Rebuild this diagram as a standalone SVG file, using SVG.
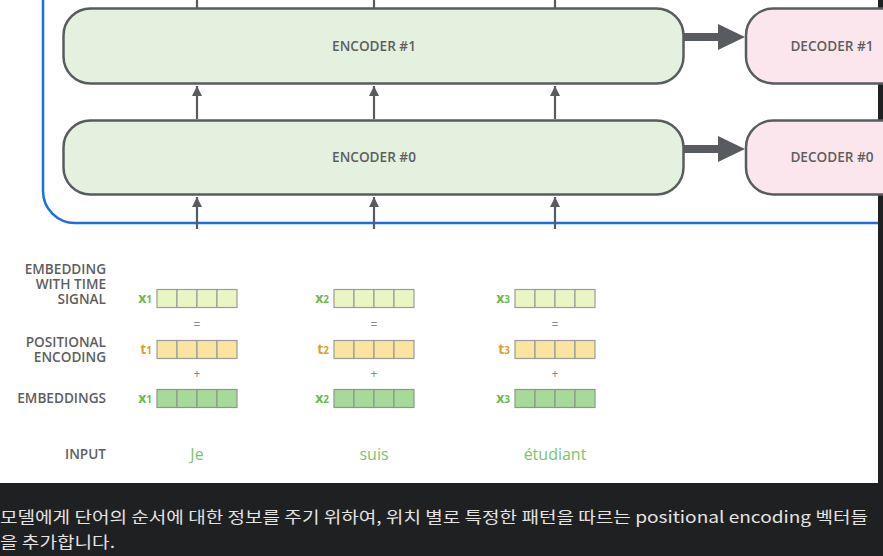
<svg xmlns="http://www.w3.org/2000/svg" width="883" height="556" viewBox="0 0 883 556">
<defs>
<style>
.enc{fill:#e4f1de;stroke:#585c61;stroke-width:2.5}
.dec{fill:#fbe6ee;stroke:#585c61;stroke-width:2.5}
.ntext{font-family:"Open Sans","Liberation Sans",sans-serif;font-size:13.6px;font-weight:600;fill:#5e5e5e;text-anchor:middle}
.lbl{font-family:"Open Sans","Liberation Sans",sans-serif;font-size:13.6px;font-weight:600;fill:#5e5e5e;text-anchor:end}
.conn{stroke:#585c61;stroke-width:2.2;fill:none}
.c1{fill:#eaf5c4;stroke:#9c9c9c;stroke-width:1.2}
.c2{fill:#fbe49f;stroke:#9c9c9c;stroke-width:1.2}
.c3{fill:#a7d99b;stroke:#8a9a88;stroke-width:1.2}
.vx{font-family:"Open Sans","Liberation Sans",sans-serif;font-size:14px;fill:#6cbb4c;font-weight:700;text-anchor:end}
.vt{font-family:"Open Sans","Liberation Sans",sans-serif;font-size:14px;fill:#d5a42e;font-weight:700;text-anchor:end}
.op{font-family:"Open Sans","Liberation Sans",sans-serif;font-size:12px;fill:#888;text-anchor:middle}
.word{font-family:"Open Sans","Liberation Sans",sans-serif;font-size:16px;fill:#7cc46a;text-anchor:middle}
.ko{font-family:"Noto Sans CJK KR","Noto Sans",sans-serif;font-size:16px;fill:#e3e3e3}
</style>
<marker id="ah" viewBox="0 0 10 10" refX="10" refY="5" markerWidth="10" markerHeight="10" markerUnits="userSpaceOnUse" orient="auto">
<path d="M0,0 L10,5 L0,10 Z" fill="#585c61"/>
</marker>
</defs>
<rect x="0" y="0" width="883" height="556" fill="#1f2022"/>
<rect x="0" y="0" width="878" height="483" fill="#ffffff"/>
<g id="container">
<path d="M43,-10 L43,191 A32,32 0 0 0 75,223 L878,223" fill="none" stroke="#1b6fe6" stroke-width="2.5"/>
</g>
<g id="connectors">
<path class="conn" d="M197,0 L197,8"/>
<path class="conn" d="M374,0 L374,8"/>
<path class="conn" d="M555,0 L555,8"/>
<path class="conn" d="M197,119 L197,86" marker-end="url(#ah)"/>
<path class="conn" d="M374,119 L374,86" marker-end="url(#ah)"/>
<path class="conn" d="M555,119 L555,86" marker-end="url(#ah)"/>
<path class="conn" d="M197,229 L197,197" marker-end="url(#ah)"/>
<path class="conn" d="M374,229 L374,197" marker-end="url(#ah)"/>
<path class="conn" d="M555,229 L555,197" marker-end="url(#ah)"/>
<path d="M684,33 L718,33 L718,24 L745,37 L718,50 L718,41 L684,41 Z" fill="#585c61"/>
<path d="M684,145 L718,145 L718,136 L745,149 L718,162 L718,153 L684,153 Z" fill="#585c61"/>
</g>
<g id="encoder1">
<rect class="enc" x="63.5" y="8.5" width="620" height="75" rx="27"/>
<text class="ntext" x="374" y="51">ENCODER #1</text>
</g>
<g id="encoder0">
<rect class="enc" x="63.5" y="120.5" width="620" height="74" rx="27"/>
<text class="ntext" x="374" y="162">ENCODER #0</text>
</g>
<g id="decoder1">
<rect class="dec" x="746" y="8.5" width="200" height="75" rx="27"/>
<text class="ntext" x="832" y="51">DECODER #1</text>
</g>
<g id="decoder0">
<rect class="dec" x="746" y="120.5" width="200" height="74" rx="27"/>
<text class="ntext" x="832" y="162">DECODER #0</text>
</g>
<g id="labels">
<text class="lbl" x="106" y="274">EMBEDDING</text>
<text class="lbl" x="106" y="289">WITH TIME</text>
<text class="lbl" x="106" y="304">SIGNAL</text>
<text class="lbl" x="106" y="347">POSITIONAL</text>
<text class="lbl" x="106" y="362">ENCODING</text>
<text class="lbl" x="106" y="403">EMBEDDINGS</text>
<text class="lbl" x="106" y="459">INPUT</text>
</g>
<g id="vec1">
<text class="vx" x="152" y="303">x<tspan font-size="10">1</tspan></text>
<rect class="c1" x="157" y="289.5" width="20" height="18"/><rect class="c1" x="177" y="289.5" width="20" height="18"/><rect class="c1" x="197" y="289.5" width="20" height="18"/><rect class="c1" x="217" y="289.5" width="20" height="18"/>
<text class="op" x="197" y="329">=</text>
<text class="vt" x="152" y="354">t<tspan font-size="10">1</tspan></text>
<rect class="c2" x="157" y="340.5" width="20" height="18"/><rect class="c2" x="177" y="340.5" width="20" height="18"/><rect class="c2" x="197" y="340.5" width="20" height="18"/><rect class="c2" x="217" y="340.5" width="20" height="18"/>
<text class="op" x="197" y="378">+</text>
<text class="vx" x="152" y="403">x<tspan font-size="10">1</tspan></text>
<rect class="c3" x="157" y="389.5" width="20" height="18"/><rect class="c3" x="177" y="389.5" width="20" height="18"/><rect class="c3" x="197" y="389.5" width="20" height="18"/><rect class="c3" x="217" y="389.5" width="20" height="18"/>
<text class="word" x="197" y="460">Je</text>
</g>
<g id="vec2">
<text class="vx" x="329" y="303">x<tspan font-size="10">2</tspan></text>
<rect class="c1" x="334" y="289.5" width="20" height="18"/><rect class="c1" x="354" y="289.5" width="20" height="18"/><rect class="c1" x="374" y="289.5" width="20" height="18"/><rect class="c1" x="394" y="289.5" width="20" height="18"/>
<text class="op" x="374" y="329">=</text>
<text class="vt" x="329" y="354">t<tspan font-size="10">2</tspan></text>
<rect class="c2" x="334" y="340.5" width="20" height="18"/><rect class="c2" x="354" y="340.5" width="20" height="18"/><rect class="c2" x="374" y="340.5" width="20" height="18"/><rect class="c2" x="394" y="340.5" width="20" height="18"/>
<text class="op" x="374" y="378">+</text>
<text class="vx" x="329" y="403">x<tspan font-size="10">2</tspan></text>
<rect class="c3" x="334" y="389.5" width="20" height="18"/><rect class="c3" x="354" y="389.5" width="20" height="18"/><rect class="c3" x="374" y="389.5" width="20" height="18"/><rect class="c3" x="394" y="389.5" width="20" height="18"/>
<text class="word" x="374" y="460">suis</text>
</g>
<g id="vec3">
<text class="vx" x="510" y="303">x<tspan font-size="10">3</tspan></text>
<rect class="c1" x="515" y="289.5" width="20" height="18"/><rect class="c1" x="535" y="289.5" width="20" height="18"/><rect class="c1" x="555" y="289.5" width="20" height="18"/><rect class="c1" x="575" y="289.5" width="20" height="18"/>
<text class="op" x="555" y="329">=</text>
<text class="vt" x="510" y="354">t<tspan font-size="10">3</tspan></text>
<rect class="c2" x="515" y="340.5" width="20" height="18"/><rect class="c2" x="535" y="340.5" width="20" height="18"/><rect class="c2" x="555" y="340.5" width="20" height="18"/><rect class="c2" x="575" y="340.5" width="20" height="18"/>
<text class="op" x="555" y="378">+</text>
<text class="vx" x="510" y="403">x<tspan font-size="10">3</tspan></text>
<rect class="c3" x="515" y="389.5" width="20" height="18"/><rect class="c3" x="535" y="389.5" width="20" height="18"/><rect class="c3" x="555" y="389.5" width="20" height="18"/><rect class="c3" x="575" y="389.5" width="20" height="18"/>
<text class="word" x="555" y="460">étudiant</text>
</g>
<g id="caption">
<text class="ko" x="0" y="523" textLength="868" lengthAdjust="spacingAndGlyphs">모델에게 단어의 순서에 대한 정보를 주기 위하여, 위치 별로 특정한 패턴을 따르는 positional encoding 벡터들</text>
<text class="ko" x="0" y="548" textLength="115" lengthAdjust="spacingAndGlyphs">을 추가합니다.</text>
</g>
</svg>
